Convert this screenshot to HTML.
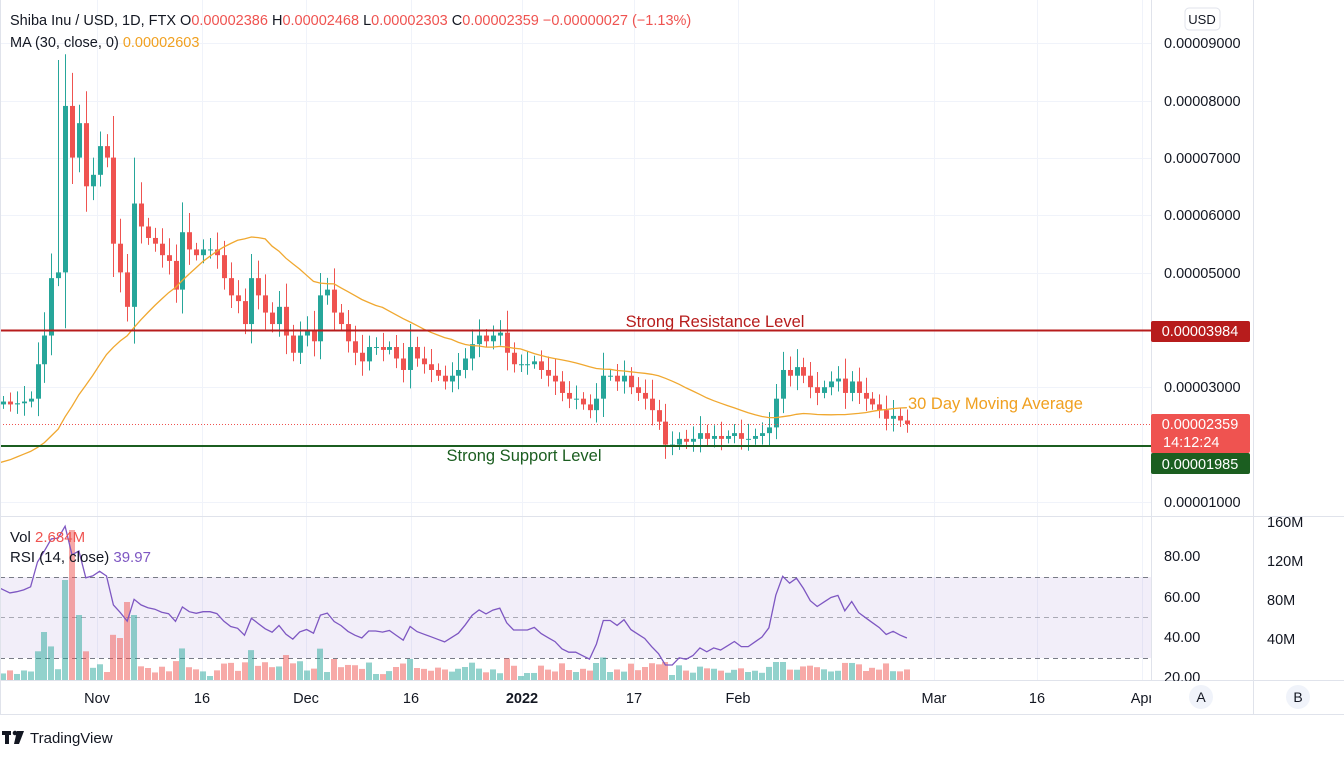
<!DOCTYPE html>
<html><head><meta charset="utf-8"><style>
html,body{margin:0;padding:0;background:#fff;width:1344px;height:759px;overflow:hidden;font-family:"Liberation Sans",sans-serif}
svg text{font-family:"Liberation Sans",sans-serif}
</style></head><body>
<svg id="s" width="1344" height="759" xmlns="http://www.w3.org/2000/svg">
<rect width="1344" height="759" fill="#fff"/>
<g id="grid" stroke="#f0f3fa" stroke-width="1"></g>
<rect x="0" y="577" width="1151" height="81" fill="#7e57c2" fill-opacity="0.1"/>
<g stroke="#787b86" stroke-dasharray="5,4" stroke-width="1">
<line x1="0" y1="577.5" x2="1151" y2="577.5"/><line x1="0" y1="617.5" x2="1151" y2="617.5" stroke-opacity="0.6"/><line x1="0" y1="658.5" x2="1151" y2="658.5"/></g>
<g id="vol"></g>
<g id="candles"></g>
<path id="ma" fill="none" stroke="#f0a830" stroke-width="1.3"/>
<path id="rsi" fill="none" stroke="#7e57c2" stroke-width="1.3"/>
<line x1="0" y1="330.5" x2="1151" y2="330.5" stroke="#b71c1c" stroke-width="2"/>
<line x1="0" y1="446" x2="1151" y2="446" stroke="#1b5e20" stroke-width="2"/>
<line x1="0" y1="424.5" x2="1151" y2="424.5" stroke="#ef5350" stroke-dasharray="1,2" stroke-width="1"/>
<text x="715" y="327" font-size="16.5" fill="#b71c1c" text-anchor="middle">Strong Resistance Level</text>
<text x="524" y="461" font-size="16.5" fill="#1b5e20" text-anchor="middle">Strong Support Level</text>
<text x="908" y="409" font-size="16.5" fill="#f0a020">30 Day Moving Average</text>
<line x1="1151.5" y1="0" x2="1151.5" y2="714" stroke="#e0e3eb"/>
<line x1="1253.5" y1="0" x2="1253.5" y2="714" stroke="#e0e3eb"/>
<line x1="0" y1="516.5" x2="1344" y2="516.5" stroke="#e0e3eb"/>
<line x1="0" y1="680.5" x2="1344" y2="680.5" stroke="#e0e3eb"/>
<line x1="0" y1="714.5" x2="1344" y2="714.5" stroke="#e0e3eb"/>
<line x1="0.5" y1="0" x2="0.5" y2="714" stroke="#e0e3eb"/>
<rect x="1185" y="8" width="35" height="22" rx="4" fill="#fff" stroke="#e0e3eb"/>
<text x="1202" y="24" font-size="13" fill="#131722" text-anchor="middle">USD</text>
<g font-size="14.5" fill="#131722">
<text x="1164" y="48">0.00009000</text><text x="1164" y="106">0.00008000</text><text x="1164" y="163">0.00007000</text><text x="1164" y="220">0.00006000</text><text x="1164" y="278">0.00005000</text><text x="1164" y="392">0.00003000</text><text x="1164" y="507">0.00001000</text>
<text x="1164" y="561">80.00</text><text x="1164" y="602">60.00</text><text x="1164" y="642">40.00</text><text x="1164" y="682">20.00</text>
<text x="1267" y="527">160M</text><text x="1267" y="566">120M</text><text x="1267" y="605">80M</text><text x="1267" y="644">40M</text>
</g>
<rect x="1151" y="321" width="99" height="21" rx="2" fill="#b71c1c"/>
<text x="1200" y="336" font-size="14.5" fill="#fff" text-anchor="middle">0.00003984</text>
<rect x="1151" y="414" width="99" height="39" rx="2" fill="#ef5350"/>
<text x="1200" y="429" font-size="14.5" fill="#fff" text-anchor="middle">0.00002359</text>
<text x="1163" y="447" font-size="14.5" fill="#fff">14:12:24</text>
<rect x="1151" y="453" width="99" height="21" rx="2" fill="#1b5e20"/>
<text x="1200" y="469" font-size="14.5" fill="#fff" text-anchor="middle">0.00001985</text>
<g font-size="14.5" fill="#131722" text-anchor="middle">
<text x="97" y="703">Nov</text><text x="202" y="703">16</text><text x="306" y="703">Dec</text><text x="411" y="703">16</text><text x="522" y="703" font-weight="bold">2022</text><text x="634" y="703">17</text><text x="738" y="703">Feb</text><text x="934" y="703">Mar</text><text x="1037" y="703">16</text><text x="1142" y="703">Apr</text>
</g>
<rect x="1151" y="681" width="193" height="33" fill="#fff"/>
<circle cx="1201" cy="697" r="12" fill="#f0f3fa"/><text x="1201" y="702" font-size="14" fill="#131722" text-anchor="middle">A</text>
<circle cx="1298" cy="697" r="12" fill="#f0f3fa"/><text x="1298" y="702" font-size="14" fill="#131722" text-anchor="middle">B</text>
<line x1="1253.5" y1="681" x2="1253.5" y2="714" stroke="#e0e3eb"/>
<text x="10" y="25" font-size="14.5" fill="#131722">Shiba Inu / USD, 1D, FTX  O<tspan fill="#ef5350">0.00002386</tspan>  H<tspan fill="#ef5350">0.00002468</tspan>  L<tspan fill="#ef5350">0.00002303</tspan>  C<tspan fill="#ef5350">0.00002359  −0.00000027 (−1.13%)</tspan></text>
<text x="10" y="47" font-size="14.5" fill="#131722">MA (30, close, 0)  <tspan fill="#f0a020">0.00002603</tspan></text>
<text x="10" y="542" font-size="15" fill="#131722">Vol  <tspan fill="#ef5350">2.684M</tspan></text>
<text x="10" y="562" font-size="15" fill="#131722">RSI (14, close)  <tspan fill="#7e57c2">39.97</tspan></text>
<g fill="#131722"><rect x="2" y="731" width="9" height="4"/><rect x="5" y="731" width="4" height="13"/><circle cx="15" cy="733" r="2.3"/><polygon points="17,731 24,731 19,744 14,744"/></g>
<text x="30" y="743" font-size="15" fill="#131722">TradingView</text>
</svg>
<script>
var C=[2.75,2.7,2.72,2.75,2.8,3.4,3.9,4.9,5.0,7.9,7.0,7.6,6.5,6.7,7.2,7.0,5.5,5.0,4.4,6.2,5.8,5.6,5.5,5.3,5.2,4.7,5.7,5.4,5.3,5.4,5.4,5.3,4.9,4.6,4.5,4.1,4.9,4.6,4.3,4.1,4.4,3.9,3.6,3.9,4.0,3.8,4.6,4.7,4.3,4.1,3.8,3.6,3.45,3.7,3.7,3.65,3.7,3.5,3.3,3.7,3.5,3.4,3.3,3.2,3.1,3.2,3.3,3.5,3.75,3.9,3.8,3.9,3.95,3.6,3.4,3.4,3.4,3.45,3.3,3.2,3.1,2.9,2.8,2.8,2.7,2.6,2.8,3.2,3.2,3.1,3.2,3.0,2.9,2.8,2.6,2.4,2.0,2.0,2.1,2.05,2.1,2.2,2.1,2.15,2.1,2.15,2.2,2.1,2.1,2.15,2.2,2.3,2.8,3.3,3.2,3.35,3.2,3.0,2.9,3.0,3.1,3.15,2.9,3.1,2.9,2.8,2.7,2.6,2.45,2.5,2.42,2.36];
var SP=6.9,X0=3;
function Y(p){return 502-(p-1)*57.4}
var s='',v='',g='';
[43,101,158,215,273,387,502].forEach(function(y){g+='<line x1="0" y1="'+(y+.5)+'" x2="1151" y2="'+(y+.5)+'"/>'});
[97,202,306,411,522,634,738,934,1037,1142].forEach(function(x){g+='<line x1="'+(x+.5)+'" y1="0" x2="'+(x+.5)+'" y2="680"/>'});
document.getElementById('grid').innerHTML=g;
var prev=2.7;
for(var i=0;i<C.length;i++){
 var x=Math.round(X0+SP*i),o=prev,c=C[i],up=c>=o,col=up?'#26a69a':'#ef5350';
 var d=Math.abs(c-o),w=0.08+d*0.35+((i*37)%7)*0.03;
 var hi=Math.max(o,c)+w,lo=Math.min(o,c)-w*0.8;
 if(i==9)hi=8.8; if(i==8)hi=8.7;
 var y1=Y(Math.max(o,c)),y2=Y(Math.min(o,c));
 s+='<line x1="'+(x+.5)+'" y1="'+Y(hi)+'" x2="'+(x+.5)+'" y2="'+Y(lo)+'" stroke="'+col+'"/>';
 s+='<rect x="'+(x-2)+'" y="'+y1+'" width="5" height="'+Math.max(1,y2-y1)+'" fill="'+col+'"/>';
 var vh=4+d*40/(c)*3.5+((i*13)%5);
 if(i>95) vh=Math.min(vh,18);
 if(i==9)vh=100; if(i==10)vh=150; if(i==11)vh=65; if(i==6)vh=48;if(i==17)vh=42;if(i==18)vh=78;if(i==19)vh=65;
 vh=Math.min(vh,150);
 v+='<rect x="'+(x-3)+'" y="'+(680-vh)+'" width="6" height="'+vh+'" fill="'+col+'" fill-opacity="0.5"/>';
 prev=c;
}
document.getElementById('candles').innerHTML=s;
document.getElementById('vol').innerHTML=v;
var pre=[];for(var k=0;k<30;k++)pre.push(1.2+k*0.03);
var all=pre.concat(C),m='';
for(var i=0;i<C.length;i++){var sum=0;for(var k=0;k<30;k++)sum+=all[i+30-k];var x=X0+SP*i;if(i==0)x=0;m+=(i?'L':'M')+x.toFixed(1)+','+Y(sum/30).toFixed(1)}
document.getElementById('ma').setAttribute('d',m);
var ag=0.06,al=0.04,r='',pc=2.6;
for(var i=0;i<C.length;i++){var ch=C[i]-pc;pc=C[i];var gn=Math.max(ch,0),ls=Math.max(-ch,0);ag=(ag*13+gn)/14;al=(al*13+ls)/14;var rs=100-100/(1+ag/Math.max(al,1e-6));var x=X0+SP*i;if(i==0)x=0;r+=(i?'L':'M')+x.toFixed(1)+','+(556+(80-rs)*2.03).toFixed(1)}
document.getElementById('rsi').setAttribute('d',r);
</script>
</body></html>
